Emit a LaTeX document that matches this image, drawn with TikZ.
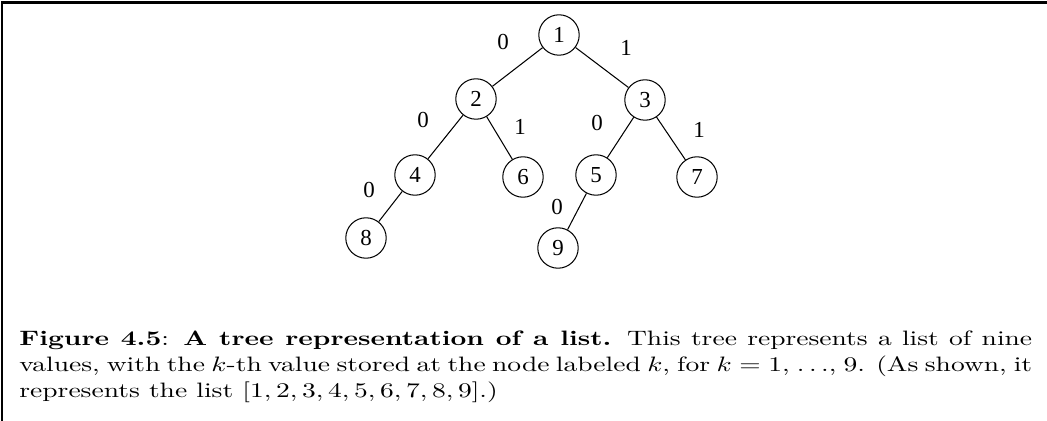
\documentclass[tikz,border=0pt]{standalone}
\usepackage{fontspec}
\usepackage{graphicx}
\newfontfamily\treefont{Liberation Serif}
\tikzset{x=0.48pt, y=-0.48pt, % one unit is one pixel of the page, y runs down
    vertex/.style={           % the numbered nodes of the tree
        circle, draw,
        line width=0.5pt,
        minimum size=19.4pt,
        inner sep=0pt,
        font=\treefont\fontsize{11}{13}\selectfont},
    bit/.style={              % 0 / 1 on the branches
        inner sep=0pt,
        font=\treefont\fontsize{11}{13}\selectfont},
    branch/.style={line width=0.5pt},
    caption/.style={anchor=base west, inner sep=0pt,
        font=\normalfont\fontsize{10}{12.3}\selectfont}}

\begin{document}
\begin{tikzpicture}
        \useasboundingbox (0,0) rectangle (1047,421);
        \draw[line width=1.3pt] (2,421) -- (2,2.5) -- (1047,2.5);

        \node[vertex] (n1) at (559,35) {1};
        \node[vertex] (n2) at (476,99) {2};
        \node[vertex] (n3) at (645,100) {3};
        \node[vertex] (n4) at (415,175) {4};
        \node[vertex] (n6) at (523,177) {6};
        \node[vertex] (n5) at (596,175) {5};
        \node[vertex] (n7) at (697,177) {7};
        \node[vertex] (n8) at (366,238) {8};
        \node[vertex] (n9) at (558,248) {9};

        \draw[branch] (n1) -- (n2);
        \draw[branch] (n1) -- (n3);
        \draw[branch] (n2) -- (n4);
        \draw[branch] (n2) -- (n6);
        \draw[branch] (n3) -- (n5);
        \draw[branch] (n3) -- (n7);
        \draw[branch] (n4) -- (n8);
        \draw[branch] (n5) -- (n9);

        \node[bit] (b12) at (503,42) {0};
        \node[bit] (b13) at (626,48) {1};
        \node[bit] (b24) at (423,120) {0};
        \node[bit] (b26) at (520,127) {1};
        \node[bit] (b35) at (597,123) {0};
        \node[bit] (b37) at (699,130) {1};
        \node[bit] (b48) at (369,190) {0};
        \node[bit] (b59) at (557,207) {0};

        % caption, set wide as in the page it comes from
        \node[caption] (cap) at (19,346) {\scalebox{1.321}[1]{\parbox[t]{368pt}{\hyphenpenalty=10000 \textbf{Figure 4.5}: \textbf{A tree representation of a list.} This tree represents a list of nine\linebreak values, with the $k$-th value stored at the node labeled $k$, for $k = 1$, $\ldots$, 9. (As shown, it\linebreak represents the list $[1,2,3,4,5,6,7,8,9]$.)}}};
    \end{tikzpicture}
\end{document}
